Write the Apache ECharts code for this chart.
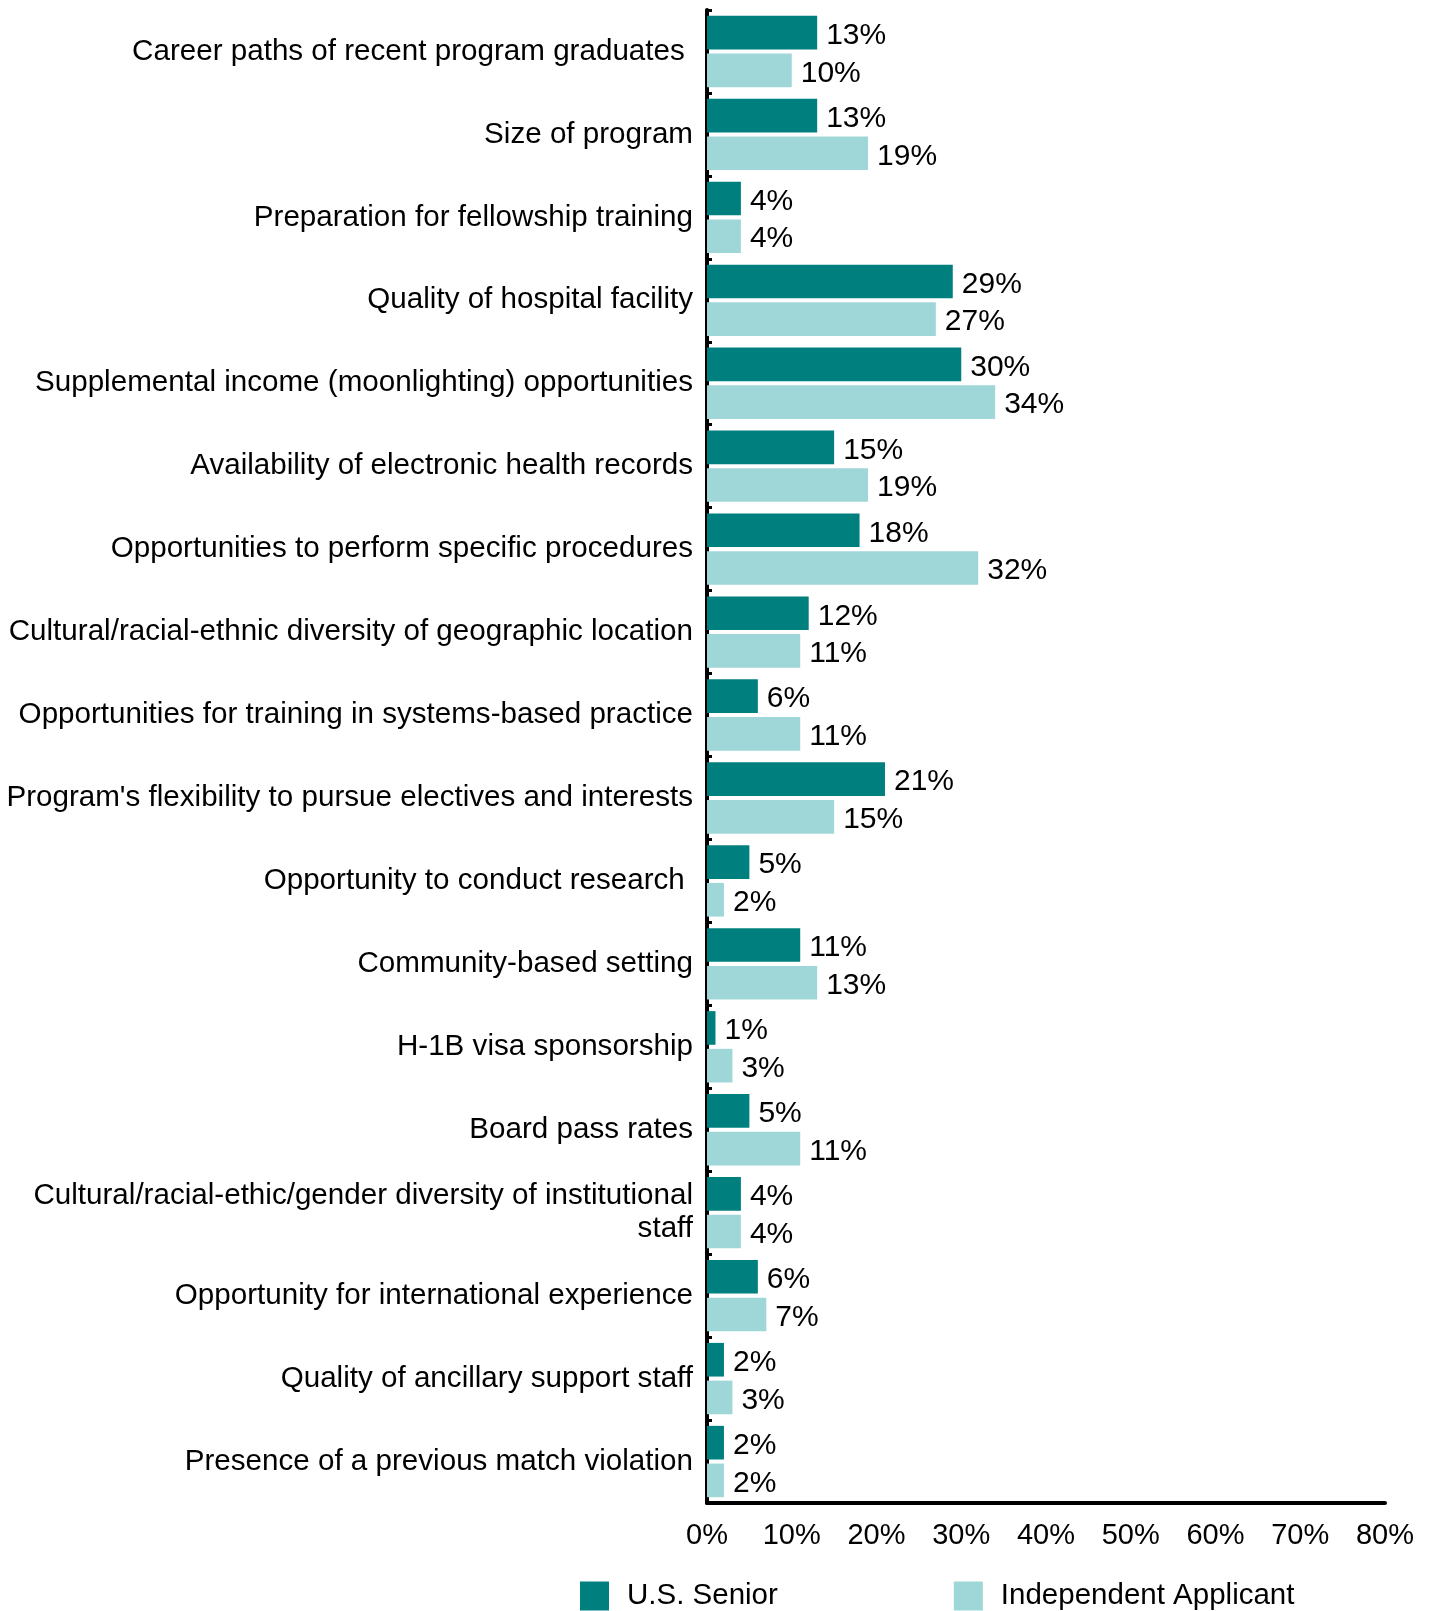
<!DOCTYPE html>
<html>
<head>
<meta charset="utf-8">
<script src="https://cdn.jsdelivr.net/npm/echarts@6/dist/echarts.min.js"></script>
<style>
  html, body { margin: 0; padding: 0; background: #ffffff; }
  #chart { width: 1429px; height: 1611px; }
</style>
</head>
<body>
<div id="chart"></div>
<script>
// Factors considered when ranking residency programs (% of applicants)
var categories = [
  "Career paths of recent program graduates ",
  "Size of program",
  "Preparation for fellowship training",
  "Quality of hospital facility",
  "Supplemental income (moonlighting) opportunities",
  "Availability of electronic health records",
  "Opportunities to perform specific procedures",
  "Cultural/racial-ethnic diversity of geographic location",
  "Opportunities for training in systems-based practice",
  "Program's flexibility to pursue electives and interests",
  "Opportunity to conduct research ",
  "Community-based setting",
  "H-1B visa sponsorship",
  "Board pass rates",
  "Cultural/racial-ethic/gender diversity of institutional\nstaff",
  "Opportunity for international experience",
  "Quality of ancillary support staff",
  "Presence of a previous match violation"
];
var usSenior = [13, 13, 4, 29, 30, 15, 18, 12, 6, 21, 5, 11, 1, 5, 4, 6, 2, 2];
var independentApplicant = [10, 19, 4, 27, 34, 19, 32, 11, 11, 15, 2, 13, 3, 11, 4, 7, 3, 2];
var seriesNames = ["U.S. Senior", "Independent Applicant"];
var xTicks = [0, 10, 20, 30, 40, 50, 60, 70, 80];

var FONT = "'Liberation Sans', Arial, sans-serif";
var chart = echarts.init(document.getElementById('chart'), null, { renderer: 'canvas' });

var valueLabel = {
  show: true,
  position: 'right',
  distance: 9,
  offset: [0, 3],
  formatter: function (p) { return p.value + '%'; },
  color: '#000',
  fontFamily: FONT,
  fontSize: 30
};

chart.setOption({
  animation: false,
  backgroundColor: '#ffffff',
  grid: { left: 707, right: 44, top: 10, bottom: 108, containLabel: false },
  legend: {
    left: 575,
    top: 1576,
    itemWidth: 29,
    itemHeight: 29,
    itemGap: 176,
    icon: 'rect',
    textStyle: { fontFamily: FONT, fontSize: 29.5, color: '#000', padding: [0, 0, 0, 13] },
    data: seriesNames
  },
  xAxis: {
    type: 'value',
    min: xTicks[0],
    max: xTicks[xTicks.length - 1],
    interval: 10,
    axisLine: { show: true, lineStyle: { color: '#000', width: 4 } },
    axisTick: { show: false },
    splitLine: { show: false },
    axisLabel: {
      formatter: '{value}%',
      fontFamily: FONT,
      fontSize: 29,
      color: '#000',
      margin: 18
    }
  },
  yAxis: {
    type: 'category',
    inverse: true,
    data: categories,
    axisLine: { show: true, lineStyle: { color: '#000', width: 4 } },
    axisTick: { show: true, inside: true, length: 5, lineStyle: { color: '#000', width: 3 } },
    axisLabel: {
      fontFamily: FONT,
      fontSize: 29.6,
      color: '#000',
      margin: 14,
      lineHeight: 33,
      padding: [6, 0, 0, 0],
      align: 'right'
    }
  },
  series: [
    {
      name: seriesNames[0],
      type: 'bar',
      data: usSenior,
      barCategoryGap: '14%',
      barGap: '12%',
      itemStyle: { color: '#007f7f' },
      label: valueLabel
    },
    {
      name: seriesNames[1],
      type: 'bar',
      data: independentApplicant,
      barCategoryGap: '14%',
      barGap: '12%',
      itemStyle: { color: '#9fd7d9' },
      label: valueLabel
    }
  ]
});
</script>
</body>
</html>
